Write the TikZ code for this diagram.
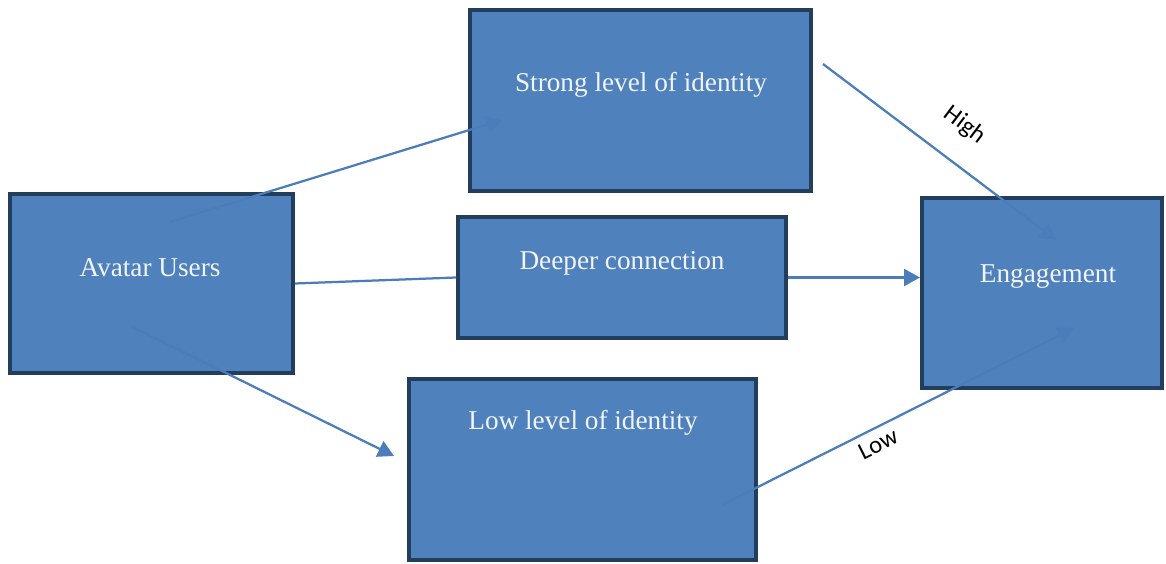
\documentclass[tikz,border=0pt]{standalone}
\usepackage{fontspec}
\setmainfont{Liberation Serif}
\newfontfamily\labelfont{Carlito}
\usetikzlibrary{arrows.meta}
\definecolor{boxfill}{HTML}{4F81BD}
\definecolor{boxline}{HTML}{233D5C}
\definecolor{arrowblue}{HTML}{4A7DBA}
\definecolor{boxtext}{HTML}{F2F4F8}

\begin{document}
\begin{tikzpicture}[x=0.02cm, y=-0.02cm,
  box/.style={draw=boxline, line width=0.08cm, fill=boxfill, inner sep=0pt},
  boxlabel/.style={text=boxtext, font=\fontsize{15.5}{18}\selectfont, inner sep=0pt},
  link/.style={draw=arrowblue, line width=0.045cm},
  linkarrow/.style={link, -{Triangle[length=0.32cm, width=0.34cm]}},
  linklabel/.style={font=\labelfont\fontsize{14}{16}\selectfont, inner sep=0pt}]
\useasboundingbox (0,0) rectangle (1166,564);
\node[box, minimum width=5.66cm, minimum height=3.58cm] (AU) at (151.5,283.5) {};
\node[box, minimum width=6.82cm, minimum height=3.62cm] (SI) at (640.5,100.5) {};
\node[box, minimum width=6.56cm, minimum height=2.42cm] (DC) at (622,277.5) {};
\node[box, minimum width=6.94cm, minimum height=3.62cm] (LI) at (582.5,469.5) {};
\node[box, minimum width=4.8cm, minimum height=3.8cm] (EN) at (1042,293) {};
\node[boxlabel] (AUt) at (150,268) {Avatar Users};
\node[boxlabel] (SIt) at (641,85) {Strong level of identity};
\node[boxlabel] (DCt) at (622,263) {Deeper connection};
\node[boxlabel] (LIt) at (583,423) {Low level of identity};
\node[boxlabel] (ENt) at (1048,277) {Engagement};
\coordinate (AUup) at (170,222);
\coordinate (SIin) at (502,120);
\coordinate (AUdown) at (131,326);
\coordinate (LIout) at (394,456);
\coordinate (SIout) at (823,64);
\coordinate (ENhigh) at (1056,240);
\coordinate (LIin) at (722,505);
\coordinate (ENlow) at (1074,328);
\draw[linkarrow] (AUup) -- (SIin);
\draw[link] (AU.east) -- (DC.west);
\draw[linkarrow] (DC.east) -- (DC.east -| EN.west);
\draw[linkarrow] (AUdown) -- (LIout);
\draw[linkarrow] (SIout) -- (ENhigh);
\draw[linkarrow] (LIin) -- (ENlow);
\node[linklabel, rotate=-37] (high) at (965,125) {High};
\node[linklabel, rotate=26.6] (low) at (878,444) {Low};
\end{tikzpicture}
\end{document}
